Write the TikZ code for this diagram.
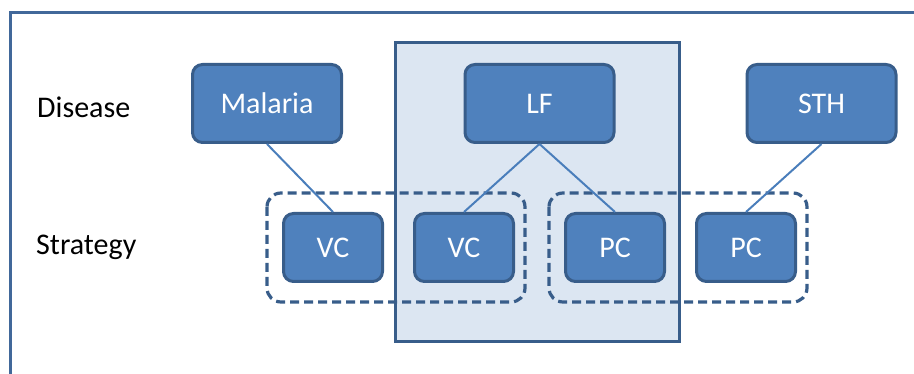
\documentclass[tikz,border=0pt]{standalone}
\usepackage{fontspec}
\setmainfont{Carlito}
\definecolor{boxfill}{HTML}{4F81BD}
\definecolor{boxline}{HTML}{385D8A}
\definecolor{conn}{HTML}{4A7EBB}
\definecolor{lightfill}{HTML}{DCE6F2}
\definecolor{framecol}{HTML}{41689A}
\begin{document}
\begin{tikzpicture}[x=1pt,y=-1pt,
  dis/.style={draw=boxline,fill=boxfill,line width=3pt,rounded corners=10pt,text=white,
    minimum width=149pt,minimum height=78pt,inner sep=0pt,font=\fontsize{30}{36}\selectfont},
  strat/.style={draw=boxline,fill=boxfill,line width=3pt,rounded corners=10pt,text=white,
    minimum width=99pt,minimum height=68pt,inner sep=0pt,font=\fontsize{30}{36}\selectfont},
  grp/.style={draw=boxline,dashed,dash pattern=on 9pt off 5pt,line width=3.2pt,rounded corners=14pt},
  conline/.style={draw=conn,line width=2pt},
  rowlabel/.style={anchor=west,inner sep=0pt,font=\fontsize{30}{36}\selectfont}]
\useasboundingbox (0,0) rectangle (914,374);
\begin{scope}
\clip (0,0) rectangle (914,374);
\draw[framecol,line width=3pt] (10,13) rectangle (940,400);
\end{scope}
% LF highlight region
\draw[boxline,fill=lightfill,line width=3pt] (395,43) rectangle (679,342);
% strategy groups
\draw[grp] (267,193) rectangle (525,302);
\draw[grp] (549,193) rectangle (807,302);
% row labels
\node[rowlabel] (ldis) at (37,107) {Disease};
\node[rowlabel] (lstr) at (36,247) {Strategy};
% disease nodes
\node[dis] (mal) at (267,103.5) {Malaria};
\node[dis] (lf) at (539.5,103.5) {LF};
\node[dis] (sth) at (821.5,103.5) {STH};
% strategy nodes
\node[strat] (vc1) at (333,247.5) {VC};
\node[strat] (vc2) at (464,247.5) {VC};
\node[strat] (pc1) at (615,247.5) {PC};
\node[strat] (pc2) at (746,247.5) {PC};
% connectors
\draw[conline] (mal.south) -- (vc1.north);
\draw[conline] (lf.south) -- (vc2.north);
\draw[conline] (lf.south) -- (pc1.north);
\draw[conline] (sth.south) -- (pc2.north);
\end{tikzpicture}
\end{document}
